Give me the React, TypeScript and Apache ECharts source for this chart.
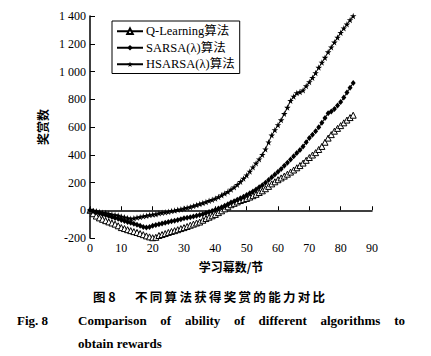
import React, { useEffect, useRef } from 'react';
import * as echarts from 'echarts';

// Episode index 0..84 corresponds to position in each array
const qLearning = [
  0, -25, -42, -55, -65, -75, -84, -92, -100, -112,
  -125, -132, -140, -147, -154, -160, -168, -176, -185, -192,
  -198, -195, -182, -175, -168, -160, -153, -147, -140, -132,
  -125, -117, -108, -100, -92, -85, -72, -60, -50, -40,
  -30, -17, -4, 10, 25, 40, 50, 60, 70, 78,
  85, 95, 105, 115, 128, 140, 155, 172, 190, 205,
  220, 233, 246, 260, 275, 290, 306, 322, 340, 360,
  380, 398, 415, 438, 460, 490, 520, 545, 570, 590,
  610, 630, 650, 668, 685,
];
const sarsa = [
  0, -5, -12, -20, -28, -35, -42, -48, -55, -62,
  -70, -78, -84, -90, -98, -105, -112, -120, -125, -120,
  -112, -106, -100, -95, -90, -85, -80, -75, -70, -64,
  -58, -54, -50, -45, -40, -35, -28, -20, -12, -5,
  3, 12, 22, 33, 44, 55, 65, 75, 86, 98,
  110, 122, 136, 150, 165, 180, 198, 218, 238, 258,
  278, 298, 320, 342, 365, 390, 412, 435, 460, 490,
  520, 545, 570, 598, 630, 665, 700, 712, 730, 755,
  780, 812, 848, 882, 918,
];
const hsarsa = [
  0, -5, -8, -12, -18, -20, -26, -30, -35, -38,
  -45, -50, -55, -62, -58, -52, -48, -44, -40, -35,
  -30, -28, -22, -18, -14, -10, -6, -2, 3, 8,
  12, 18, 24, 30, 38, 45, 52, 60, 68, 76,
  85, 96, 108, 120, 134, 150, 166, 184, 205, 228,
  252, 280, 310, 338, 368, 400, 440, 490, 540, 578,
  615, 650, 695, 740, 790, 820, 845, 852, 865, 895,
  925, 955, 990, 1028, 1065, 1100, 1140, 1175, 1210, 1245,
  1280, 1312, 1340, 1372, 1400,
];
const seriesNames = ['Q-Learning算法', 'SARSA(λ)算法', 'HSARSA(λ)算法'];
const xAxisName = '学习幕数/节';
const yAxisName = '奖赏数';
const captionCnFig = '图 8';
const captionCn = '不同算法获得奖赏的能力对比';
const captionFig = 'Fig. 8';
const captionEn1 = 'Comparison of ability of different algorithms to';
const captionEn2 = 'obtain rewards';

const STAR = 'path://M50,0 L61,35 L98,35 L68,57 L79,91 L50,70 L21,91 L32,57 L2,35 L39,35 Z';
const SERIF = '"Liberation Serif", "Noto Sans CJK SC", serif';
const CJK = '"Noto Sans CJK SC", "Liberation Serif", sans-serif';

function justifiedWords(text: string, font: string, x0: number, x1: number, top: number) {
  const words = text.split(' ');
  const canvas = document.createElement('canvas');
  const ctx = canvas.getContext('2d')!;
  ctx.font = font;
  const widths = words.map((w) => ctx.measureText(w).width);
  const total = widths.reduce((a, b) => a + b, 0);
  const gap = (x1 - x0 - total) / (words.length - 1);
  let x = x0;
  return words.map((w, i) => {
    const el = { type: 'text', left: x, top, style: { text: w, font, fill: '#000' } };
    x += widths[i] + gap;
    return el;
  });
}

function spacedChars(text: string, font: string, x0: number, x1: number, top: number) {
  const chars = Array.from(text);
  const canvas = document.createElement('canvas');
  const ctx = canvas.getContext('2d')!;
  ctx.font = font;
  const widths = chars.map((c) => ctx.measureText(c).width);
  const total = widths.reduce((a, b) => a + b, 0);
  const gap = (x1 - x0 - total) / (chars.length - 1);
  let x = x0;
  return chars.map((c, i) => {
    const el = { type: 'text', left: x, top, style: { text: c, font, fill: '#000' } };
    x += widths[i] + gap;
    return el;
  });
}

export default function App() {
  const ref = useRef<HTMLDivElement>(null);
  useEffect(() => {
    if (!ref.current) return;
    const chart = echarts.init(ref.current, undefined, { renderer: 'svg' });
    const toPairs = (arr: number[]) => arr.map((v, i) => [i, v]);
    const lineStyle = { color: '#000', width: 1 };
    const enFont = `bold 13px ${SERIF}`;
    const cnFont = `bold 12.5px ${CJK}`;
    chart.setOption({
      animation: false,
      backgroundColor: '#fff',
      grid: { left: 90, right: 59, top: 16, bottom: 118 },
      legend: {
        orient: 'vertical',
        left: 112,
        top: 21,
        padding: [4, 5, 3, 4],
        itemGap: 4,
        itemWidth: 26,
        itemHeight: 7,
        borderColor: '#000',
        borderWidth: 1,
        textStyle: { fontFamily: SERIF, fontSize: 12.5, color: '#000', padding: [0, 0, 0, -2] },
        data: seriesNames,
      },
      xAxis: {
        type: 'value',
        min: 0,
        max: 90,
        interval: 10,
        name: xAxisName,
        nameLocation: 'middle',
        nameGap: 22,
        nameTextStyle: { fontFamily: CJK, fontSize: 12, fontWeight: 'bold', color: '#000' },
        axisLine: { lineStyle: { color: '#000', width: 1.5 } },
        axisTick: { inside: true, length: 4, lineStyle: { color: '#000', width: 1 } },
        axisLabel: { fontFamily: SERIF, fontSize: 12, color: '#000', margin: 4 },
        splitLine: { show: false },
      },
      yAxis: {
        type: 'value',
        min: -200,
        max: 1400,
        interval: 200,
        name: yAxisName,
        nameLocation: 'middle',
        nameRotate: 90,
        nameGap: 38,
        nameTextStyle: { fontFamily: CJK, fontSize: 12, fontWeight: 'bold', color: '#000' },
        axisLine: { show: true, lineStyle: { color: '#000', width: 1.5 } },
        axisTick: { show: true, inside: true, length: 5, lineStyle: { color: '#000', width: 1 } },
        axisLabel: {
          fontFamily: SERIF,
          fontSize: 12,
          color: '#000',
          margin: 4,
          formatter: (v: number) =>
            v >= 1000 ? `${Math.floor(v / 1000)} ${String(v % 1000).padStart(3, '0')}` : String(v),
        },
        splitLine: { show: false },
      },
      series: [
        {
          name: seriesNames[0],
          type: 'line',
          data: toPairs(qLearning),
          symbol: 'triangle',
          symbolSize: 6,
          showAllSymbol: true,
          lineStyle,
          itemStyle: { color: '#fff', borderColor: '#000', borderWidth: 1 },
          z: 2,
        },
        {
          name: seriesNames[1],
          type: 'line',
          data: toPairs(sarsa),
          symbol: 'diamond',
          symbolSize: [5, 6],
          showAllSymbol: true,
          lineStyle,
          itemStyle: { color: '#000', borderColor: '#000', borderWidth: 0 },
          z: 3,
        },
        {
          name: seriesNames[2],
          type: 'line',
          data: toPairs(hsarsa),
          symbol: STAR,
          symbolSize: 6.5,
          showAllSymbol: true,
          lineStyle,
          itemStyle: { color: '#000', borderColor: '#000', borderWidth: 0 },
          z: 4,
        },
      ],
      graphic: [
        {
          type: 'text',
          left: 93,
          top: 290,
          style: { text: captionCnFig, font: cnFont, fill: '#000' },
        },
        ...spacedChars(captionCn, cnFont, 135, 325, 290),
        {
          type: 'text',
          left: 17,
          top: 314,
          style: { text: captionFig, font: enFont, fill: '#000' },
        },
        ...justifiedWords(captionEn1, enFont, 78, 405, 314),
        {
          type: 'text',
          left: 78,
          top: 337,
          style: { text: captionEn2, font: enFont, fill: '#000' },
        },
      ],
    });
    return () => chart.dispose();
  }, []);
  return (
    <div
      ref={ref}
      style={{ position: 'fixed', left: 0, top: 0, width: 431, height: 356, background: '#fff' }}
    />
  );
}
